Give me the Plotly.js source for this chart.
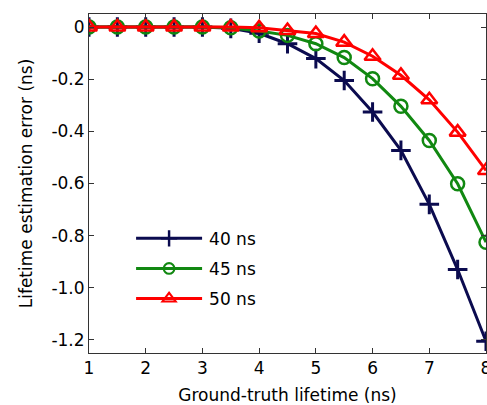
<!DOCTYPE html>
<html>
<head>
<meta charset="utf-8">
<script src="https://cdn.plot.ly/plotly-3.0.1.min.js"></script>
<style>html,body{margin:0;padding:0;background:#fff;}#chart{width:487px;height:405px;}</style>
</head>
<body>
<div id="chart"></div>
<script>
const lifetime = [1, 1.5, 2, 2.5, 3, 3.5, 4, 4.5, 5, 5.5, 6, 6.5, 7, 7.5, 8];
const err40 = [0, 0, 0, 0, 0, -0.005, -0.024, -0.064, -0.121, -0.205, -0.326, -0.473, -0.68, -0.93, -1.205];
const err45 = [0, 0, 0, 0, 0, -0.003, -0.015, -0.032, -0.064, -0.117, -0.198, -0.304, -0.435, -0.601, -0.825];
const err50 = [0, 0, 0, 0, 0, 0, -0.003, -0.013, -0.025, -0.058, -0.112, -0.185, -0.279, -0.403, -0.55];
const seriesNames = ['40 ns', '45 ns', '50 ns'];
const xTicks = [1, 2, 3, 4, 5, 6, 7, 8];
const yTickVals = [0, -0.2, -0.4, -0.6, -0.8, -1.0, -1.2];
const yTickText = ['0', '-0.2', '-0.4', '-0.6', '-0.8', '-1.0', '-1.2'];

const font = {family: 'DejaVu Sans, sans-serif', size: 17, color: '#000'};
const traces = [
  {x: lifetime, y: err40, name: seriesNames[0], legendgroup: 'a', mode: 'lines+markers',
   line: {color: '#0b0b4f', width: 3},
   marker: {symbol: 'cross-thin-open', size: 14, line: {color: '#0b0b4f', width: 3}}},
  {x: lifetime, y: err45, name: seriesNames[1], legendgroup: 'b', mode: 'lines+markers',
   line: {color: '#118811', width: 3},
   marker: {symbol: 'circle-open', size: 13, color: '#118811', line: {color: '#118811', width: 2.5}}},
  {x: lifetime, y: err50, name: seriesNames[2], legendgroup: 'c', mode: 'lines+markers',
   line: {color: '#ff0000', width: 3},
   marker: {symbol: 'triangle-up-open', size: 14, color: '#ff0000', line: {color: '#ff0000', width: 2.5}}}
];
const axisCommon = {
  showgrid: false, zeroline: false, showline: true, mirror: 'ticks',
  linecolor: '#333', linewidth: 1, ticks: 'inside', ticklen: 5, tickcolor: '#333',
  tickfont: font, ticklabeloverflow: 'allow'
};
const layout = {
  width: 487, height: 405,
  margin: {l: 89, r: 1, t: 14, b: 52},
  paper_bgcolor: '#fff', plot_bgcolor: '#fff',
  font: font,
  showlegend: true,
  legend: {x: 0.106, y: 0.39, xanchor: 'left', yanchor: 'top', bgcolor: 'rgba(0,0,0,0)',
           font: font, itemwidth: 68, traceorder: 'grouped', tracegroupgap: 5},
  xaxis: Object.assign({}, axisCommon, {range: [1, 8], tickvals: xTicks,
    title: {text: 'Ground-truth lifetime (ns)', font: font, standoff: 12}}),
  yaxis: Object.assign({}, axisCommon, {range: [-1.25, 0.05], tickvals: yTickVals, ticktext: yTickText,
    title: {text: 'Lifetime estimation error (ns)', font: font, standoff: 14}})
};
Plotly.newPlot('chart', traces, layout, {displayModeBar: false, staticPlot: true}).then(function(gd){
  // lengthen legend sample lines and shrink legend markers
  gd.querySelectorAll('.legendlines path').forEach(function(p){ p.setAttribute('d', 'M5,0h66'); });
  gd.querySelectorAll('.legendpoints path').forEach(function(p){ p.setAttribute('transform', 'translate(38,0) scale(0.82)'); });
});
</script>
</body>
</html>
